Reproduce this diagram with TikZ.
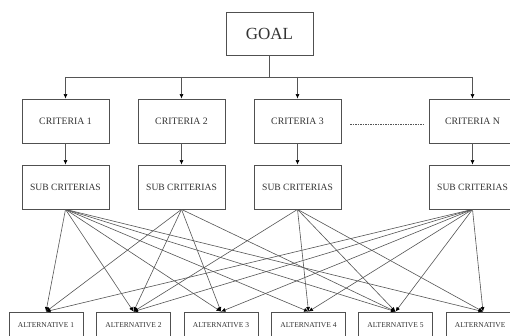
\documentclass[tikz,border=0pt]{standalone}
\usepackage{fontspec}
\setmainfont{Liberation Serif}
\usetikzlibrary{arrows.meta}
\definecolor{boxgray}{HTML}{505050}
\definecolor{linegray}{HTML}{555555}
\definecolor{txtgray}{HTML}{333333}
\begin{document}
\begin{tikzpicture}[x=1pt,y=-1pt,
  goalbox/.style={draw=boxgray,line width=0.8pt,minimum width=87pt,minimum height=43pt,inner sep=0pt,text=txtgray,font=\fontsize{17}{19}\selectfont},
  critbox/.style={draw=boxgray,line width=0.8pt,minimum width=87pt,minimum height=44pt,inner sep=0pt,text=txtgray,font=\fontsize{9.8}{11}\selectfont},
  subbox/.style={critbox,font=\fontsize{9.6}{11}\selectfont},
  altbox/.style={draw=boxgray,line width=0.8pt,minimum width=74pt,minimum height=26pt,inner sep=0pt,text=txtgray,font=\fontsize{7.5}{9}\selectfont},
  conn/.style={draw=linegray,line width=0.6pt},
  arr/.style={conn,-{Latex[length=4.5pt,width=4pt,color=black]}},
  dotline/.style={draw=linegray,line width=0.5pt,dash pattern=on 1.5pt off 1pt}]
\useasboundingbox (0,0) rectangle (510,336);
\fill[white] (0,0) rectangle (510,336);
\clip (0,0) rectangle (510,336);

\node[goalbox] (goal) at (269.5,33.5) {GOAL};

\node[critbox] (c1) at (65.5,121) {CRITERIA 1};
\node[critbox] (c2) at (181.5,121) {CRITERIA 2};
\node[critbox] (c3) at (297.5,121) {CRITERIA 3};
\node[critbox] (cN) at (472.5,121) {CRITERIA N};

\node[subbox] (s1) at (65.5,187) {SUB CRITERIAS};
\node[subbox] (s2) at (181.5,187) {SUB CRITERIAS};
\node[subbox] (s3) at (297.5,187) {SUB CRITERIAS};
\node[subbox] (sN) at (472.5,187) {SUB CRITERIAS};

\node[altbox] (a1) at (46,325) {ALTERNATIVE 1};
\node[altbox] (a2) at (133.5,325) {ALTERNATIVE 2};
\node[altbox] (a3) at (221,325) {ALTERNATIVE 3};
\node[altbox] (a4) at (308.5,325) {ALTERNATIVE 4};
\node[altbox] (a5) at (395.5,325) {ALTERNATIVE 5};
\node[altbox] (a6) at (483,325) {ALTERNATIVE\phantom{ 6}};

% bus from goal
\coordinate (bus) at (269.5,77);
\draw[conn] (goal.south) -- (bus);
\draw[conn] (c1.north |- bus) -- (cN.north |- bus);
\foreach \c in {c1,c2,c3,cN}{
  \draw[arr] (\c.north |- bus) -- (\c.north);
}

% criteria to sub criteria
\foreach \c/\s in {c1/s1,c2/s2,c3/s3,cN/sN}{
  \draw[arr] (\c.south) -- (\s.north);
}

% dotted continuation
\coordinate (d1) at (350,124.5);
\coordinate (d2) at (423,124.5);
\draw[dotline] (d1) -- (d2);

% sub criteria to alternatives
\foreach \a in {a1,a2,a3,a4,a5,a6}{
  \draw[arr] (s1.south) -- (\a.north);
  \draw[arr] (sN.south) -- (\a.north);
}
\foreach \a in {a1,a2,a3,a5}{
  \draw[arr] (s2.south) -- (\a.north);
}
\foreach \a in {a2,a4,a5,a6}{
  \draw[arr] (s3.south) -- (\a.north);
}
\end{tikzpicture}
\end{document}
